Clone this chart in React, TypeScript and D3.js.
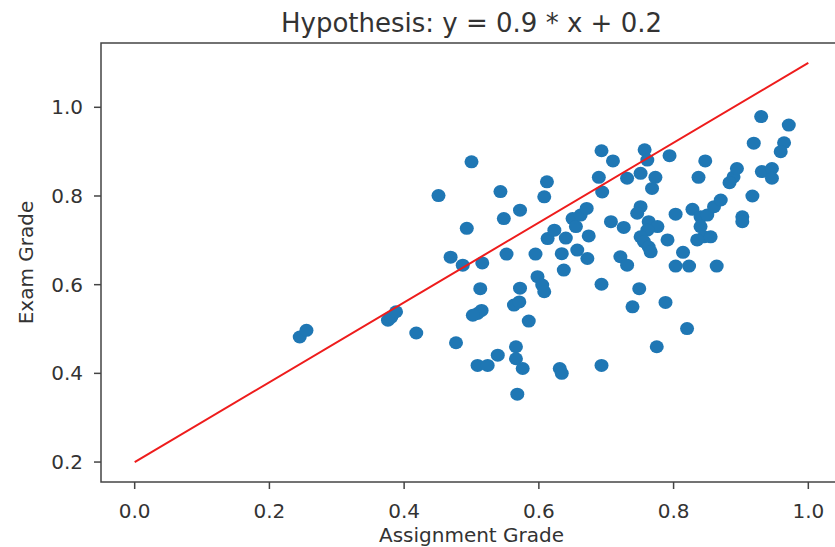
import React from "react";
import * as d3 from "d3";

const assignmentGrade: number[] = [
  0.245, 0.255, 0.376, 0.381, 0.388, 0.418, 0.451, 0.469, 0.487, 0.477,
  0.500, 0.493, 0.516, 0.513, 0.509, 0.515, 0.502, 0.509, 0.524, 0.539,
  0.543, 0.548, 0.572, 0.552, 0.572, 0.563, 0.571, 0.585, 0.566, 0.566,
  0.576, 0.568, 0.598, 0.605, 0.608, 0.595, 0.612, 0.608, 0.613, 0.623,
  0.640, 0.634, 0.637, 0.631, 0.634, 0.657, 0.672, 0.650, 0.655, 0.662,
  0.671, 0.674, 0.693, 0.710, 0.689, 0.694, 0.707, 0.726, 0.731, 0.693,
  0.693, 0.721, 0.731, 0.739, 0.749, 0.757, 0.761, 0.751, 0.773, 0.768,
  0.794, 0.751, 0.746, 0.763, 0.776, 0.761, 0.751, 0.756, 0.763, 0.766,
  0.791, 0.803, 0.828, 0.814, 0.803, 0.823, 0.864, 0.788, 0.820, 0.775,
  0.837, 0.847, 0.840, 0.840, 0.845, 0.855, 0.835, 0.850, 0.860, 0.870,
  0.889, 0.883, 0.894, 0.902, 0.902, 0.917, 0.919, 0.930, 0.931, 0.946,
  0.946, 0.964, 0.959, 0.971,
];

const examGrade: number[] = [
  0.482, 0.497, 0.520, 0.527, 0.539, 0.491, 0.801, 0.662, 0.644, 0.469,
  0.877, 0.727, 0.649, 0.591, 0.535, 0.542, 0.531, 0.418, 0.418, 0.441,
  0.810, 0.749, 0.768, 0.669, 0.592, 0.554, 0.561, 0.518, 0.460, 0.433,
  0.411, 0.353, 0.618, 0.599, 0.584, 0.669, 0.832, 0.798, 0.704, 0.723,
  0.705, 0.670, 0.633, 0.411, 0.400, 0.678, 0.659, 0.749, 0.731, 0.757,
  0.772, 0.710, 0.902, 0.879, 0.842, 0.809, 0.742, 0.729, 0.840, 0.601,
  0.418, 0.663, 0.644, 0.550, 0.591, 0.904, 0.881, 0.851, 0.842, 0.817,
  0.891, 0.776, 0.761, 0.742, 0.731, 0.723, 0.708, 0.697, 0.685, 0.674,
  0.701, 0.759, 0.770, 0.673, 0.642, 0.642, 0.642, 0.560, 0.501, 0.460,
  0.842, 0.879, 0.753, 0.731, 0.708, 0.708, 0.701, 0.757, 0.776, 0.791,
  0.843, 0.830, 0.862, 0.753, 0.742, 0.800, 0.919, 0.979, 0.855, 0.862,
  0.840, 0.920, 0.900, 0.960,
];

const hypothesisX: number[] = [0, 1];
const hypothesisY: number[] = hypothesisX.map((x) => 0.9 * x + 0.2);

const xTicks: number[] = [0.0, 0.2, 0.4, 0.6, 0.8, 1.0];
const yTicks: number[] = [0.2, 0.4, 0.6, 0.8, 1.0];

const titleText = "Hypothesis: y = 0.9 * x + 0.2";
const xLabel = "Assignment Grade";
const yLabel = "Exam Grade";

export default function App() {
  const W = 835;
  const H = 547;
  const left = 101;
  const right = 842;
  const top = 43;
  const bottom = 482;

  const x = d3.scaleLinear().domain([-0.05, 1.05]).range([left, right]);
  const y = d3.scaleLinear().domain([0.155, 1.145]).range([bottom, top]);

  const line = d3
    .line<number>()
    .x((_, i) => x(hypothesisX[i]))
    .y((d) => y(d));

  const font = "'DejaVu Sans', sans-serif";
  const textColor = "#333";

  return (
    <svg
      width={W}
      height={H}
      style={{ position: "absolute", left: 0, top: 0, background: "#fff" }}
      fontFamily={font}
    >
      <text x={(left + right) / 2} y={32} textAnchor="middle" fontSize={26} fill={textColor}>
        {titleText}
      </text>

      {assignmentGrade.map((a, i) => (
        <ellipse key={i} cx={x(a)} cy={y(examGrade[i])} rx={7} ry={6.5} fill="#1f77b4" />
      ))}

      <path d={line(hypothesisY) || ""} stroke="#ee1c1c" strokeWidth={2} fill="none" />

      <rect
        x={left}
        y={top}
        width={right - left}
        height={bottom - top}
        fill="none"
        stroke="#444"
        strokeWidth={1.5}
      />

      {xTicks.map((t) => (
        <g key={"x" + t}>
          <line x1={x(t)} x2={x(t)} y1={bottom} y2={bottom + 7} stroke="#444" strokeWidth={1.5} />
          <text x={x(t)} y={bottom + 36} textAnchor="middle" fontSize={20} fill={textColor}>
            {t.toFixed(1)}
          </text>
        </g>
      ))}

      {yTicks.map((t) => (
        <g key={"y" + t}>
          <line x1={left - 7} x2={left} y1={y(t)} y2={y(t)} stroke="#444" strokeWidth={1.5} />
          <text
            x={left - 18}
            y={y(t)}
            textAnchor="end"
            dominantBaseline="central"
            fontSize={20}
            fill={textColor}
          >
            {t.toFixed(1)}
          </text>
        </g>
      ))}

      <text x={(left + right) / 2} y={542} textAnchor="middle" fontSize={20} fill={textColor}>
        {xLabel}
      </text>
      <text
        transform={`translate(33, ${(top + bottom) / 2}) rotate(-90)`}
        textAnchor="middle"
        fontSize={20}
        fill={textColor}
      >
        {yLabel}
      </text>
    </svg>
  );
}
